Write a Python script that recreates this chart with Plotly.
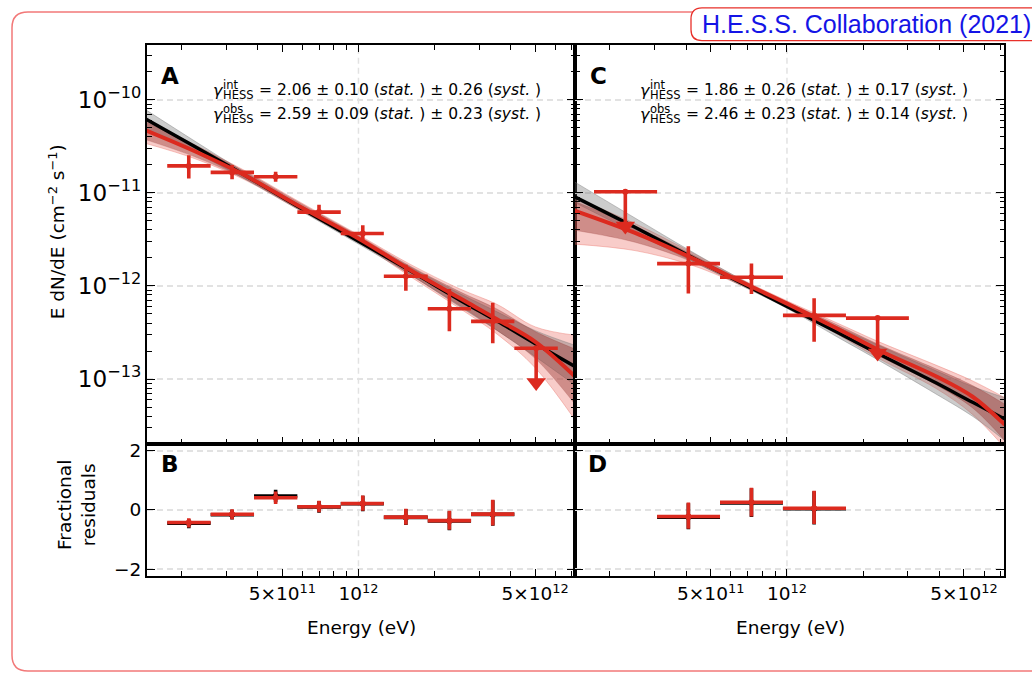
import numpy as np
import plotly.graph_objects as go

W, H = 1032, 678
FONT = "DejaVu Sans"
RED = "#dc2a1f"

# ---------------- data ----------------
# Panel A: spectral points, energy in eV, E dN/dE in cm^-2 s^-1
A_e      = [2.13e11, 3.16e11, 4.70e11, 6.98e11, 1.04e12, 1.54e12, 2.29e12, 3.40e12]
A_e_lo   = [1.75e11, 2.60e11, 3.86e11, 5.73e11, 8.51e11, 1.26e12, 1.88e12, 2.79e12]
A_e_hi   = [2.60e11, 3.86e11, 5.73e11, 8.51e11, 1.26e12, 1.88e12, 2.79e12, 4.14e12]
A_flux   = [1.95e-11, 1.66e-11, 1.49e-11, 6.22e-12, 3.66e-12, 1.27e-12, 5.69e-13, 4.17e-13]
A_flux_hi = [2.53e-11, 1.99e-11, 1.69e-11, 7.45e-12, 4.48e-12, 1.69e-12, 9.30e-13, 6.59e-13]
A_flux_lo = [1.43e-11, 1.40e-11, 1.32e-11, 5.37e-12, 3.03e-12, 8.90e-13, 3.27e-13, 2.42e-13]
# Panel A upper limit
A_ul_e, A_ul_e_lo, A_ul_e_hi = [5.05e12], [4.14e12], [6.15e12]
A_ul_flux, A_ul_head = [2.14e-13], [9.16e-14]

# Panel C: spectral points
C_e      = [4.08e11, 7.24e11, 1.28e12]
C_e_lo   = [3.07e11, 5.44e11, 9.64e11]
C_e_hi   = [5.44e11, 9.64e11, 1.71e12]
C_flux   = [1.74e-12, 1.24e-12, 4.83e-13]
C_flux_hi = [2.68e-12, 1.74e-12, 7.40e-13]
C_flux_lo = [8.30e-13, 8.20e-13, 2.51e-13]
# Panel C upper limits
C_ul_e, C_ul_e_lo, C_ul_e_hi = [2.30e11, 2.28e12], [1.73e11, 1.71e12], [3.07e11, 3.03e12]
C_ul_flux, C_ul_head = [1.03e-11, 4.52e-13], [4.40e-12, 1.91e-13]

# Model curves: energies (eV) and log10(E dN/dE) read at those energies
A_curve_e = [1.445e11, 2.239e11, 3.548e11, 5.623e11, 1.0e12, 1.585e12, 2.512e12, 3.548e12, 5.012e12, 7.244e12]
A_black   = [-10.21, -10.50, -10.81, -11.13, -11.52, -11.83, -12.15, -12.38, -12.62, -12.87]
A_red     = [-10.33, -10.55, -10.81, -11.12, -11.49, -11.82, -12.13, -12.36, -12.60, -12.98]
A_gray_up = [-10.11, -10.44, -10.78, -11.10, -11.49, -11.79, -12.08, -12.28, -12.48, -12.64]
A_gray_dn = [-10.31, -10.56, -10.85, -11.16, -11.55, -11.87, -12.22, -12.48, -12.76, -13.07]
A_red_up  = [-10.22, -10.48, -10.76, -11.07, -11.45, -11.76, -12.03, -12.20, -12.44, -12.53]
A_red_dn  = [-10.47, -10.63, -10.86, -11.16, -11.53, -11.89, -12.24, -12.52, -12.88, -13.45]
A_core_up = [-10.24, -10.49, -10.77, -11.08, -11.46, -11.78, -12.06, -12.25, -12.49, -12.68]
A_core_dn = [-10.43, -10.61, -10.85, -11.15, -11.52, -11.87, -12.21, -12.48, -12.78, -13.28]

C_curve_e = [1.445e11, 2.512e11, 4.140e11, 6.310e11, 1.0e12, 1.585e12, 2.307e12, 3.873e12, 5.408e12, 7.244e12]
C_black   = [-11.04, -11.37, -11.68, -11.94, -12.22, -12.50, -12.73, -13.04, -13.25, -13.43]
C_red     = [-11.19, -11.43, -11.69, -11.93, -12.19, -12.46, -12.69, -12.97, -13.19, -13.49]
C_gray_up = [-10.88, -11.27, -11.62, -11.90, -12.19, -12.44, -12.64, -12.91, -13.08, -13.20]
C_gray_dn = [-11.10, -11.43, -11.72, -11.97, -12.24, -12.55, -12.80, -13.16, -13.40, -13.66]
C_red_up  = [-11.05, -11.33, -11.63, -11.90, -12.16, -12.40, -12.60, -12.85, -13.02, -13.20]
C_red_dn  = [-11.55, -11.62, -11.77, -11.97, -12.22, -12.52, -12.78, -13.10, -13.38, -13.74]
C_core_up = [-11.09, -11.36, -11.65, -11.91, -12.17, -12.42, -12.63, -12.89, -13.07, -13.27]
C_core_dn = [-11.40, -11.53, -11.73, -11.96, -12.21, -12.50, -12.75, -13.06, -13.31, -13.66]

# Residuals (panel B: bins of panel A; panel D: bins of panel C)
B_res     = [-0.42, -0.145, 0.41, 0.11, 0.22, -0.24, -0.36, -0.14]
B_res_up  = [0.14, 0.165, 0.21, 0.20, 0.27, 0.28, 0.33, 0.48]
B_res_dn  = [0.17, 0.165, 0.21, 0.19, 0.25, 0.26, 0.31, 0.38]
B_res_blk = [-0.45, -0.16, 0.47, 0.10, 0.21, -0.25, -0.37, -0.15]
D_res     = [-0.22, 0.26, 0.06]
D_res_up  = [0.47, 0.49, 0.59]
D_res_dn  = [0.41, 0.48, 0.53]
D_res_blk = [-0.24, 0.24, 0.04]

X_MAJOR = [5e11, 1e12, 5e12]
X_TEXT = ["5×10<sup>11</sup>", "10<sup>12</sup>", "5×10<sup>12</sup>"]
X_MINOR = [2e11, 3e11, 4e11, 6e11, 7e11, 8e11, 9e11, 2e12, 3e12, 4e12, 6e12, 7e12]

A_TEXT = ["= 2.06 ± 0.10 (<i>stat.</i> ) ± 0.26 (<i>syst.</i> )",
          "= 2.59 ± 0.09 (<i>stat.</i> ) ± 0.23 (<i>syst.</i> )"]
C_TEXT = ["= 1.86 ± 0.26 (<i>stat.</i> ) ± 0.17 (<i>syst.</i> )",
          "= 2.46 ± 0.23 (<i>stat.</i> ) ± 0.14 (<i>syst.</i> )"]

# ---------------- figure ----------------
fig = go.Figure()


def pv(a):
    return 10 ** np.asarray(a, dtype=float)


def add_band(xa, ya, e, lo, hi, color, edge):
    fig.add_trace(go.Scatter(x=e, y=pv(lo), mode="lines", line=dict(width=0.8, color=edge, shape="spline"),
                             xaxis=xa, yaxis=ya, hoverinfo="skip", showlegend=False))
    fig.add_trace(go.Scatter(x=e, y=pv(hi), mode="lines", line=dict(width=0.8, color=edge, shape="spline"),
                             fill="tonexty", fillcolor=color, xaxis=xa, yaxis=ya,
                             hoverinfo="skip", showlegend=False))


def add_points(xa, ya, e, elo, ehi, f, flo, fhi, color=RED, th=3.6):
    e, elo, ehi = map(np.asarray, (e, elo, ehi))
    f, flo, fhi = map(np.asarray, (f, flo, fhi))
    fig.add_trace(go.Scatter(
        x=e, y=f, mode="markers", marker=dict(size=0, color=color),
        error_x=dict(type="data", symmetric=False, array=ehi - e, arrayminus=e - elo,
                     color=color, thickness=th, width=0),
        error_y=dict(type="data", symmetric=False, array=fhi - f, arrayminus=f - flo,
                     color=color, thickness=th, width=0),
        xaxis=xa, yaxis=ya, showlegend=False))


def add_ul(xa, ya, e, elo, ehi, f, head):
    e, elo, ehi, f, head = map(np.asarray, (e, elo, ehi, f, head))
    fig.add_trace(go.Scatter(
        x=e, y=f, mode="markers", marker=dict(size=0, color=RED),
        error_x=dict(type="data", symmetric=False, array=ehi - e, arrayminus=e - elo,
                     color=RED, thickness=3.6, width=0),
        error_y=dict(type="data", symmetric=False, array=0 * f, arrayminus=f - head,
                     color=RED, thickness=3.6, width=0),
        xaxis=xa, yaxis=ya, showlegend=False))
    fig.add_trace(go.Scatter(x=e, y=head, mode="markers",
                             marker=dict(symbol="triangle-down", size=17, color=RED, line=dict(width=0)),
                             xaxis=xa, yaxis=ya, showlegend=False))


RED_BAND = ("rgba(236,115,105,0.36)", "rgba(236,115,105,0.5)")
GRAY_BAND = ("rgba(100,100,100,0.33)", "rgba(120,120,120,0.5)")
CORE_BAND = ("rgba(150,55,50,0.42)", "rgba(150,55,50,0.3)")

for xa, ya, ce, blk, red, gu, gd, ru, rd, cu, cd in [
    ("x", "y", A_curve_e, A_black, A_red, A_gray_up, A_gray_dn, A_red_up, A_red_dn, A_core_up, A_core_dn),
    ("x2", "y2", C_curve_e, C_black, C_red, C_gray_up, C_gray_dn, C_red_up, C_red_dn, C_core_up, C_core_dn),
]:
    add_band(xa, ya, ce, rd, ru, *RED_BAND)
    add_band(xa, ya, ce, gd, gu, *GRAY_BAND)
    add_band(xa, ya, ce, cd, cu, *CORE_BAND)
    fig.add_trace(go.Scatter(x=ce, y=pv(blk), mode="lines", line=dict(color="black", width=3.4, shape="spline"),
                             xaxis=xa, yaxis=ya, showlegend=False))
    fig.add_trace(go.Scatter(x=ce, y=pv(red), mode="lines", line=dict(color=RED, width=4, shape="spline"),
                             xaxis=xa, yaxis=ya, showlegend=False))

add_points("x", "y", A_e, A_e_lo, A_e_hi, A_flux, A_flux_lo, A_flux_hi)
add_ul("x", "y", A_ul_e, A_ul_e_lo, A_ul_e_hi, A_ul_flux, A_ul_head)
add_points("x2", "y2", C_e, C_e_lo, C_e_hi, C_flux, C_flux_lo, C_flux_hi)
add_ul("x2", "y2", C_ul_e, C_ul_e_lo, C_ul_e_hi, C_ul_flux, C_ul_head)

# residuals: black (behind) then red
Bres, Bup, Bdn = map(np.asarray, (B_res, B_res_up, B_res_dn))
Dres, Dup, Ddn = map(np.asarray, (D_res, D_res_up, D_res_dn))
Bblk, Dblk = np.asarray(B_res_blk), np.asarray(D_res_blk)
add_points("x3", "y3", A_e, A_e_lo, A_e_hi, Bblk, Bblk - Bdn, Bblk + Bup, color="black")
add_points("x3", "y3", A_e, A_e_lo, A_e_hi, Bres, Bres - Bdn, Bres + Bup)
add_points("x4", "y4", C_e, C_e_lo, C_e_hi, Dblk, Dblk - Ddn, Dblk + Dup, color="black")
add_points("x4", "y4", C_e, C_e_lo, C_e_hi, Dres, Dres - Ddn, Dres + Dup)

# ---------------- axes ----------------
def px(x):
    return x / W


def py(y):
    return 1 - y / H


XL = [px(147), px(575)]
XR = [px(575), px(1004)]
YT = [py(445), py(41)]
YB = [py(579), py(445)]
TICKFONT = dict(family=FONT, size=18.5, color="black")
GRID = dict(showgrid=True, gridcolor="#e2e2e2", gridwidth=1.5, griddash="6px,4px")


def xaxis(domain, anchor, labels, mirror):
    return dict(domain=domain, anchor=anchor, type="log", range=[11.163, 12.857],
                tickmode="array", tickvals=X_MAJOR, ticktext=X_TEXT, showticklabels=labels,
                ticks="inside", ticklen=7, tickwidth=1.3, tickcolor="black",
                minor=dict(tickmode="array", tickvals=X_MINOR, ticks="inside", ticklen=5,
                           tickwidth=1.2, tickcolor="black", showgrid=False),
                showline=True, linewidth=2, linecolor="black", mirror=mirror,
                showgrid=False, zeroline=False, tickfont=TICKFONT)


def ylog(domain, anchor, labels):
    return dict(domain=domain, anchor=anchor, type="log", range=[-13.695, -9.406],
                dtick=1, exponentformat="power", showticklabels=labels,
                ticks="inside", ticklen=8, tickwidth=1.3, tickcolor="black",
                minor=dict(dtick="D1", ticks="inside", ticklen=4.5, tickwidth=1.1,
                           tickcolor="black", showgrid=False),
                showline=True, linewidth=2, linecolor="black", mirror="allticks",
                zeroline=False, tickfont=TICKFONT, **GRID)


def yres(domain, anchor, labels):
    return dict(domain=domain, anchor=anchor, range=[-2.23, 2.23],
                tickmode="array", tickvals=[-2, 0, 2], ticktext=["−2", "0", "2"],
                showticklabels=labels, ticks="inside", ticklen=8, tickwidth=1.3, tickcolor="black",
                showline=True, linewidth=2, linecolor="black", mirror="allticks",
                zeroline=False, tickfont=TICKFONT, **GRID)


fig.update_layout(
    width=W, height=H, margin=dict(l=0, r=0, t=0, b=0),
    paper_bgcolor="white", plot_bgcolor="white", showlegend=False,
    font=dict(family=FONT, color="black"),
    xaxis=xaxis(XL, "y", False, "allticks"),
    yaxis=ylog(YT, "x", True),
    xaxis2=xaxis(XR, "y2", False, "allticks"),
    yaxis2=ylog(YT, "x2", False),
    xaxis3=xaxis(XL, "y3", True, True),
    yaxis3=yres(YB, "x3", True),
    xaxis4=xaxis(XR, "y4", True, True),
    yaxis4=yres(YB, "x4", False),
)

# vertical dashed grid line at 10^12
for xr, yr in [("x", "y domain"), ("x2", "y2 domain"), ("x3", "y3 domain"), ("x4", "y4 domain")]:
    fig.add_shape(type="line", xref=xr, yref=yr, x0=1e12, x1=1e12, y0=0, y1=1, layer="below",
                  line=dict(color="#e2e2e2", width=1.5, dash="6px,4px"))


# rounded frames
def rrect(x0, y0, x1, y1, r):
    pts = (f"M{px(x0 + r)},{py(y0)} L{px(x1 - r)},{py(y0)} Q{px(x1)},{py(y0)} {px(x1)},{py(y0 + r)} "
           f"L{px(x1)},{py(y1 - r)} Q{px(x1)},{py(y1)} {px(x1 - r)},{py(y1)} "
           f"L{px(x0 + r)},{py(y1)} Q{px(x0)},{py(y1)} {px(x0)},{py(y1 - r)} "
           f"L{px(x0)},{py(y0 + r)} Q{px(x0)},{py(y0)} {px(x0 + r)},{py(y0)} Z")
    return pts


fig.add_shape(type="path", xref="paper", yref="paper", path=rrect(12, 8, 1050, 675, 16),
              line=dict(color="#f27878", width=1.5))
fig.add_shape(type="path", xref="paper", yref="paper", path=rrect(691, 4, 1050, 37, 11),
              line=dict(color="#e8302a", width=1.3), fillcolor="white")

ann = []


def text(x, y, s, size, xanchor="center", yanchor="middle", angle=0, color="black", family=FONT):
    ann.append(dict(x=px(x), y=py(y), xref="paper", yref="paper", text=s, showarrow=False,
                    xanchor=xanchor, yanchor=yanchor, textangle=angle, borderpad=0,
                    font=dict(family=family, size=size, color=color)))


text(866, 20, "H.E.S.S. Collaboration (2021)", 25, color="#1414e6",
     family="Liberation Sans Narrow, Liberation Sans, Arial")

for lab, x, y in [("A", 170, 73), ("C", 598, 73), ("B", 170, 465), ("D", 597, 465)]:
    text(x, y, f"<b>{lab}</b>", 23)

for dx, lines in [(0, A_TEXT), (427, C_TEXT)]:
    for i, (sup, y) in enumerate([("int", 87), ("obs", 111)]):
        text(212 + dx, y + 1, "<i>γ</i>", 16, xanchor="left")
        text(222 + dx, y - 5, sup, 11.5, xanchor="left")
        text(222 + dx, y + 5.5, "HESS", 11.5, xanchor="left")
        text(258 + dx, y, lines[i], 15.5, xanchor="left")

text(57, 231, "E dN/dE (cm<sup>−2</sup> s<sup>−1</sup>)", 18.5, angle=-90)
text(76, 507, "Fractional<br>residuals", 18.5, angle=-90)
text(361, 631, "Energy (eV)", 18.5)
text(790, 631, "Energy (eV)", 18.5)

fig.update_layout(annotations=ann)
fig.write_html("out.html")
